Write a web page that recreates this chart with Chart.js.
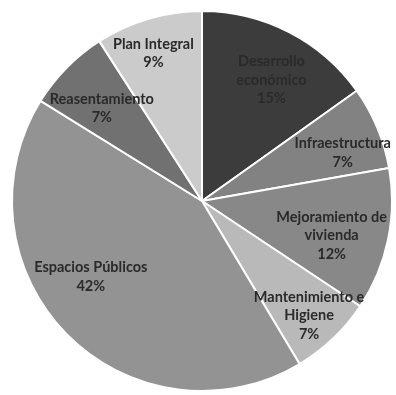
<!DOCTYPE html>
<html>
<head>
<meta charset="utf-8">
<script src="https://cdn.jsdelivr.net/npm/chart.js@4"></script>
<style>
  html, body { margin: 0; padding: 0; background: #fff; }
  #wrap { width: 396px; height: 395px; }
</style>
</head>
<body>
<div id="wrap"><canvas id="pieChart"></canvas></div>
<script>
// Distribución por componente (%)
const categorias = [
  ['Desarrollo', 'económico'],
  ['Infraestructura'],
  ['Mejoramiento de', 'vivienda'],
  ['Mantenimiento e', 'Higiene'],
  ['Espacios Públicos'],
  ['Reasentamiento'],
  ['Plan Integral']
];
const porcentajes = [15, 7, 12, 7, 42, 7, 9];
const colores = ['#3c3c3c', '#828282', '#888888', '#b9b9b9', '#939393', '#717171', '#cbcbcb'];

// etiquetas dentro de cada porción: nombre + porcentaje
const etiquetasPlugin = {
  id: 'etiquetas',
  afterDatasetsDraw(chart, args, opts) {
    const ctx = chart.ctx;
    const meta = chart.getDatasetMeta(0);
    ctx.save();
    ctx.font = 'bold 14.5px Lato';
    ctx.fillStyle = '#2a2a2a';
    ctx.textAlign = 'center';
    ctx.textBaseline = 'middle';
    meta.data.forEach((arc, i) => {
      const p = arc.getProps(['x', 'y', 'startAngle', 'endAngle', 'outerRadius'], true);
      const mid = (p.startAngle + p.endAngle) / 2;
      const r = p.outerRadius * 0.74;
      const aj = opts.ajustes[i] || [0, 0];
      const cx = p.x + Math.cos(mid) * r + aj[0];
      const cy = p.y + Math.sin(mid) * r + aj[1];
      const lines = categorias[i].concat([porcentajes[i] + '%']);
      const lh = 18.5;
      const y0 = cy - (lines.length - 1) * lh / 2;
      lines.forEach((t, k) => ctx.fillText(t, cx, y0 + k * lh));
    });
    ctx.restore();
  }
};

new Chart(document.getElementById('pieChart'), {
  type: 'pie',
  data: {
    labels: categorias.map(c => c.join(' ')),
    datasets: [{
      data: porcentajes,
      backgroundColor: colores,
      borderColor: '#ffffff',
      borderWidth: 2
    }]
  },
  options: {
    responsive: true,
    maintainAspectRatio: false,
    animation: false,
    layout: { padding: { left: 11, right: 3, top: 10, bottom: 3 } },
    plugins: {
      legend: { display: false },
      tooltip: { enabled: false },
      // desplazamiento fino de cada etiqueta (px)
      etiquetas: {
        ajustes: [[5, 4], [11, 6], [-8, 6], [10, 13], [-11, -23], [0, 6], [-9, -13]]
      }
    }
  },
  plugins: [etiquetasPlugin]
});
</script>
</body>
</html>
